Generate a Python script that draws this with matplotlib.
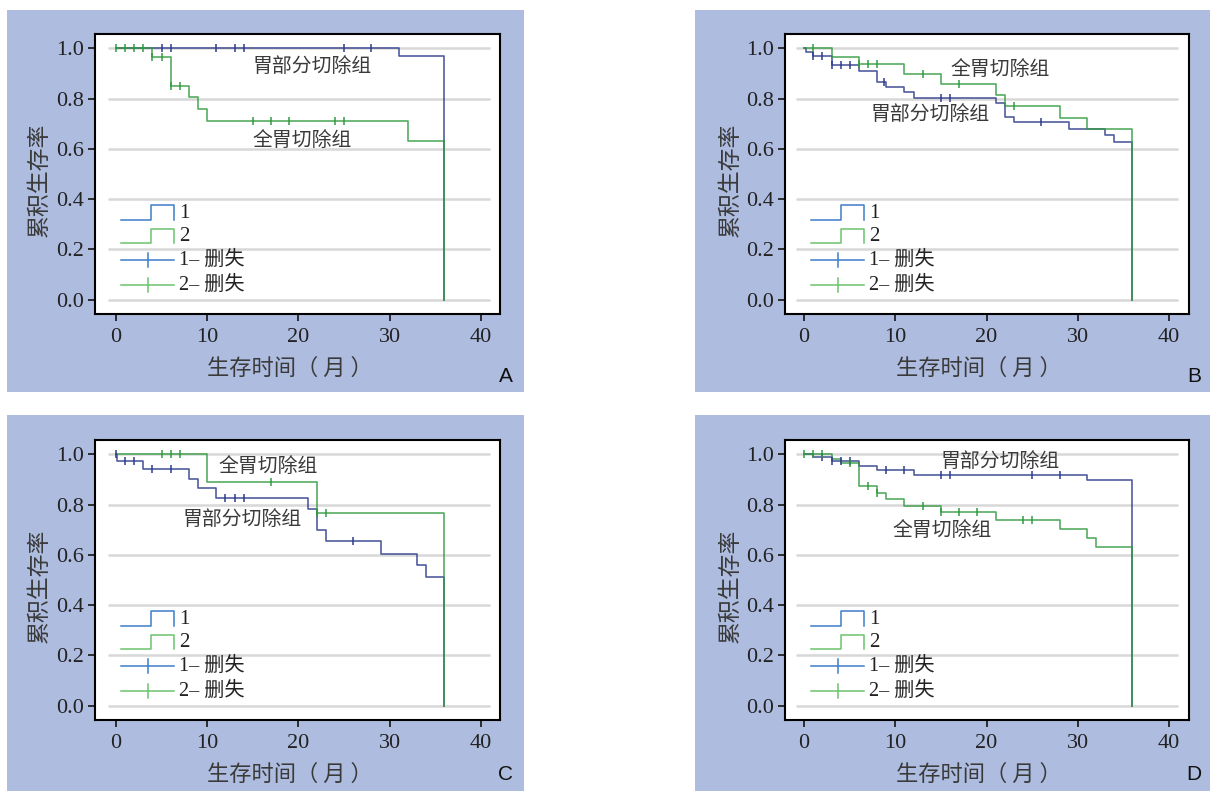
import numpy as np
import matplotlib
matplotlib.use('Agg')
import matplotlib.pyplot as plt
from matplotlib.patches import Rectangle

# ---------------- data (months, survival) ----------------
# group 1 = 胃部分切除组 (blue), group 2 = 全胃切除组 (green)
a_g1_t = [0, 31, 36]
a_g1_s = [1.0, 0.969, 0.0]
a_g1_c = [5, 6, 11, 13, 14, 25, 28]
a_g2_t = [0, 4, 6, 8, 9, 10, 32, 36]
a_g2_s = [1.0, 0.967, 0.851, 0.805, 0.757, 0.711, 0.631, 0.0]
a_g2_c = [0, 1, 2, 3, 4, 5, 6, 7, 15, 17, 19, 24, 25]

b_g1_t = [0, 0.2, 1, 3, 6, 8, 9, 11, 12, 21, 22, 23, 29, 33, 34, 36]
b_g1_s = [1.0, 0.987, 0.971, 0.934, 0.911, 0.867, 0.847, 0.825, 0.804, 0.784,
          0.728, 0.706, 0.679, 0.655, 0.629, 0.0]
b_g1_c = [1, 2, 3, 4, 5, 8.8, 15, 16, 26]
b_g2_t = [0, 3, 6, 11, 15, 21, 22, 28, 31, 36]
b_g2_s = [1.0, 0.967, 0.936, 0.898, 0.858, 0.814, 0.772, 0.722, 0.678, 0.0]
b_g2_c = [1, 6, 7, 8, 13, 17, 23]

c_g1_t = [0, 0.1, 3, 8, 9, 11, 21, 22, 23, 29, 33, 34, 36]
c_g1_s = [1.0, 0.975, 0.942, 0.903, 0.865, 0.827, 0.783, 0.697, 0.654, 0.604,
          0.558, 0.512, 0.0]
c_g1_c = [0, 1, 2, 4, 6, 12, 13, 14, 26]
c_g2_t = [0, 10, 22, 36]
c_g2_s = [1.0, 0.889, 0.766, 0.0]
c_g2_c = [5, 6, 7, 17, 22, 23]

d_g1_t = [0, 1, 3, 6, 8, 12, 31, 36]
d_g1_s = [1.0, 0.99, 0.972, 0.953, 0.936, 0.919, 0.898, 0.0]
d_g1_c = [2, 3, 4, 5, 9, 11, 15, 16, 25, 28]
d_g2_t = [0, 3, 4, 6, 8, 9, 11, 15, 21, 28, 31, 32, 36]
d_g2_s = [1.0, 0.98, 0.965, 0.873, 0.847, 0.824, 0.795, 0.771, 0.738, 0.702,
          0.667, 0.63, 0.0]
d_g2_c = [0, 1, 2, 5, 7, 8, 13, 15, 17, 19, 24, 25]

panel_letters = ['A', 'B', 'C', 'D']
group_names = ['胃部分切除组', '全胃切除组']
legend_labels = ['1', '2', '1– 删失', '2– 删失']
xlabel = '生存时间（ 月 ）'
ylabel = '累积生存率'
xticks = [0, 10, 20, 30, 40]
yticks = [0.0, 0.2, 0.4, 0.6, 0.8, 1.0]

# annotation positions (data coords) for [group1 label, group2 label]
ann_pos = {
    'A': [(21.5, 0.927), (20.4, 0.635)],
    'B': [(13.8, 0.737), (21.5, 0.914)],
    'C': [(13.8, 0.739), (16.7, 0.951)],
    'D': [(21.5, 0.971), (15.1, 0.699)],
}

panels = {
    'A': (a_g1_t, a_g1_s, a_g1_c, a_g2_t, a_g2_s, a_g2_c),
    'B': (b_g1_t, b_g1_s, b_g1_c, b_g2_t, b_g2_s, b_g2_c),
    'C': (c_g1_t, c_g1_s, c_g1_c, c_g2_t, c_g2_s, c_g2_c),
    'D': (d_g1_t, d_g1_s, d_g1_c, d_g2_t, d_g2_s, d_g2_c),
}

# ---------------- style ----------------
W, H = 1210, 791
BG = '#aebcdf'
GRID = '#d8d8d8'
BLUE = '#2b3a8a'
GREEN = '#2f9a3f'
LBLUE = '#3f7dc8'
LGREEN = '#6cc46c'
CJK = 'Noto Sans CJK SC'
SERIF = 'Liberation Serif'
TXT = '#3a3a3a'

fig = plt.figure(figsize=(W / 100, H / 100), dpi=100)
fig.patch.set_facecolor('white')

# panel background boxes (pixel geometry)
bg_boxes = {'A': (7, 10, 524, 392), 'B': (695, 10, 1210, 392),
            'C': (7, 415, 524, 791), 'D': (695, 415, 1210, 791)}
ax_boxes = {'A': (95, 34, 500, 314), 'B': (785, 34, 1189, 314),
            'C': (95, 440, 500, 720), 'D': (785, 440, 1189, 720)}
xlims = {'A': (-2.3, 42.1), 'B': (-2.1, 42.2), 'C': (-2.3, 42.1), 'D': (-2.1, 42.2)}
letter_pos = {'A': (506, 377), 'B': (1194, 377), 'C': (506, 775), 'D': (1194, 775)}

for k, (x0, y0, x1, y1) in bg_boxes.items():
    fig.patches.append(Rectangle((x0 / W, 1 - y1 / H), (x1 - x0) / W, (y1 - y0) / H,
                                 transform=fig.transFigure, facecolor=BG,
                                 edgecolor='none', zorder=-10))


def surv_at(times, surv, t):
    idx = np.searchsorted(np.asarray(times, float), t, side='right') - 1
    return np.asarray(surv, float)[idx]


for key in panel_letters:
    x0, y0, x1, y1 = ax_boxes[key]
    ax = fig.add_axes([x0 / W, 1 - y1 / H, (x1 - x0) / W, (y1 - y0) / H])
    ax.set_zorder(5)
    ax.set_facecolor('white')
    ax.set_xlim(*xlims[key])
    ax.set_ylim(-0.057, 1.057)

    # horizontal grid lines
    ax.hlines(yticks, -0.9, 41.0, colors=GRID, linewidth=1.8, zorder=1)

    g1_t, g1_s, g1_c, g2_t, g2_s, g2_c = panels[key]
    for t, s, c, col in ((g1_t, g1_s, g1_c, BLUE), (g2_t, g2_s, g2_c, GREEN)):
        ax.step(t, s, where='post', color=col, linewidth=1.15, alpha=0.85, zorder=3)
        cy = [surv_at(t, s, ct) for ct in c]
        ax.plot(c, cy, linestyle='none', marker='|', markersize=5.5,
                markeredgewidth=1.2, color=col, alpha=0.9, zorder=4)

    # group annotations
    for name, (tx, ty) in zip(group_names, ann_pos[key]):
        ax.text(tx, ty, name, family=CJK, fontsize=14.3, color=TXT,
                ha='center', va='center', zorder=5)

    # legend (drawn in axes fraction)
    tr = ax.transAxes
    xa, xb = 0.064, 0.196
    for (ylo, yhi, ty), col, lab in (((0.336, 0.389, 0.360), LBLUE, legend_labels[0]),
                                      ((0.2525, 0.304, 0.276), LGREEN, legend_labels[1])):
        ax.plot([xa, 0.138, 0.138, xb, xb], [ylo, ylo, yhi, yhi, ylo],
                transform=tr, color=col, linewidth=1.1, zorder=5)
        ax.text(0.208, ty, lab, transform=tr, family=SERIF, fontsize=15,
                color='#222222', va='center', ha='left')
    for yl, col, lab in ((0.193, LBLUE, legend_labels[2]),
                         (0.1036, LGREEN, legend_labels[3])):
        ax.plot([xa, xb], [yl, yl], transform=tr, color=col, linewidth=1.1, zorder=5)
        ax.plot([0.131, 0.131], [yl - 0.026, yl + 0.026], transform=tr, color=col,
                linewidth=1.1, zorder=5)
        ax.text(0.208, yl, lab, transform=tr, family=[SERIF, CJK], fontsize=14.5,
                color='#222222', va='center', ha='left')

    # axes styling
    for sp in ax.spines.values():
        sp.set_color('black')
        sp.set_linewidth(1.5)
    ax.set_xticks(xticks)
    ax.set_yticks(yticks)
    ax.set_xticklabels([str(v) for v in xticks], family=SERIF, fontsize=16, color='#222222')
    ax.set_yticklabels([f'{v:.1f}' for v in yticks], family=SERIF, fontsize=16, color='#222222')
    ax.tick_params(axis='both', direction='out', length=5, width=1.3, color='#222222', pad=3)
    ax.tick_params(axis='x', pad=5)
    ax.set_xlabel(xlabel, family=CJK, fontsize=16, color=TXT)
    ax.xaxis.set_label_coords(0.481, -0.153)
    ax.set_ylabel(ylabel, family=CJK, fontsize=16.5, color=TXT)
    ax.yaxis.set_label_coords(-0.108, 0.479)

    lx, ly = letter_pos[key]
    fig.text(lx / W, 1 - ly / H, key, family='Liberation Sans', fontsize=15,
             color='#111111', ha='center', va='center')

fig.savefig('out.png', dpi=100, facecolor='white')
